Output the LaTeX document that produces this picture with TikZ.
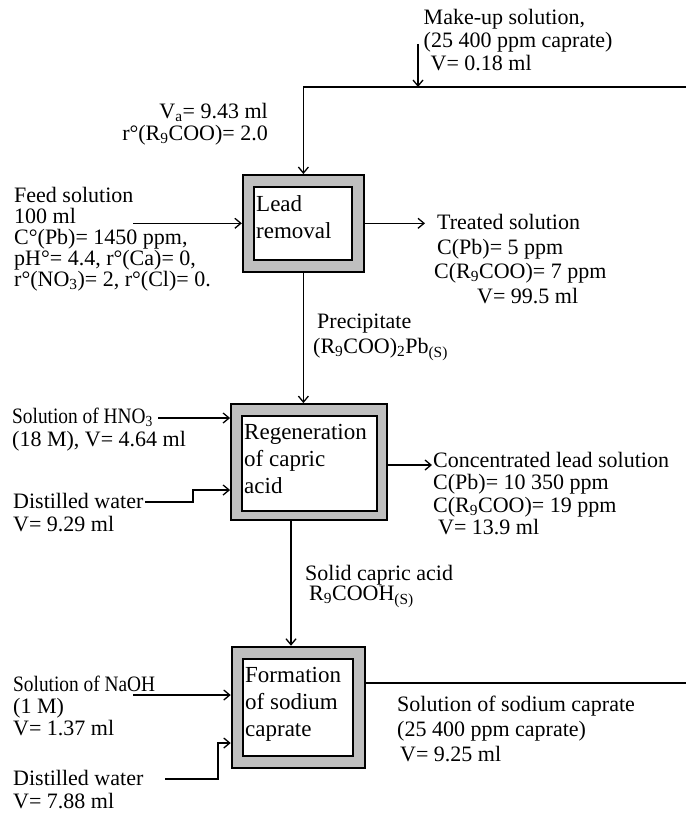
\documentclass[tikz,border=0pt]{standalone}
\usepackage{fontspec}
\usepackage{graphicx}
\setmainfont{Liberation Serif}
\usetikzlibrary{arrows.meta}
\newcommand{\narrowtxt}[1]{\scalebox{0.88}[1]{#1}}
\begin{document}
\begin{tikzpicture}[x=1pt,y=-1pt,
  lbl/.style={font=\fontsize{22}{22}\selectfont, inner sep=0pt, align=left, anchor=north west},
  boxtxt/.style={font=\fontsize{23}{27}\selectfont, inner sep=0pt, align=left, anchor=north west},
  outerbox/.style={draw, line width=1.8pt, fill=black!25, inner sep=0pt},
  innerbox/.style={draw, line width=1.8pt, fill=white, inner sep=0pt},
  flow/.style={line width=1.3pt, -{Straight Barb[length=6pt,width=10pt]}},
  plain/.style={line width=1.3pt}]
\useasboundingbox (0,0) rectangle (686,816);

% boxes
\node[outerbox, minimum width=121.3pt, minimum height=96.7pt] (b1o) at (303.4,223.3) {};
\node[innerbox, minimum width=97.7pt, minimum height=73.3pt] (b1i) at (302.9,223.3) {};
\node[boxtxt] (b1t) at (256,195.5) {Lead\\removal};

\node[outerbox, minimum width=156pt, minimum height=116pt] (b2o) at (309,462) {};
\node[innerbox, minimum width=135pt, minimum height=95pt] (b2i) at (309.5,463.5) {};
\node[boxtxt] (b2t) at (244,424.5) {Regeneration\\of capric\\acid};

\node[outerbox, minimum width=133.3pt, minimum height=121.3pt] (b3o) at (298.3,707.3) {};
\node[innerbox, minimum width=110pt, minimum height=97pt] (b3i) at (298,707.5) {};
\node[boxtxt] (b3t) at (245,667.5) {Formation\\of sodium\\caprate};

% labels
\node[lbl, font=\fontsize{22}{23}\selectfont] (mk) at (423.5,9) {Make-up solution,\\(25 400 ppm caprate)\\\hspace*{7pt}V= 0.18 ml};
\node[lbl, font=\fontsize{22}{22}\selectfont, align=right, anchor=north east] (va) at (268,103) {V\textsubscript{a}= 9.43 ml\\r°(R\textsubscript{9}COO)= 2.0};
\node[lbl, font=\fontsize{22}{21}\selectfont] (feed) at (14,187) {Feed solution\\100 ml\\C°(Pb)= 1450 ppm,\\pH°= 4.4, r°(Ca)= 0,\\r°(NO\textsubscript{3})= 2, r°(Cl)= 0.};
\node[lbl, font=\fontsize{22}{24.7}\selectfont] (treat) at (434,214) {\hspace*{3pt}Treated solution\\\hspace*{3pt}C(Pb)= 5 ppm\\C(R\textsubscript{9}COO)= 7 ppm\\\hspace*{43pt}V= 99.5 ml};
\node[lbl, font=\fontsize{22}{25}\selectfont] (prec) at (313,314) {\hspace*{4pt}Precipitate\\(R\textsubscript{9}COO)\textsubscript{2}Pb\textsubscript{(S)}};
\node[lbl, font=\fontsize{22}{23}\selectfont] (hno) at (12,407.5) {\narrowtxt{Solution of HNO\textsubscript{3}}\\(18 M), V= 4.64 ml};
\node[lbl, font=\fontsize{22}{23}\selectfont] (dw1) at (13,493) {Distilled water\\V= 9.29 ml};
\node[lbl, font=\fontsize{22}{22.5}\selectfont] (conc) at (433,452) {Concentrated lead solution\\C(Pb)= 10 350 ppm\\C(R\textsubscript{9}COO)= 19 ppm\\\hspace*{5pt}V= 13.9 ml};
\node[lbl, font=\fontsize{22}{20}\selectfont] (solid) at (305,565) {Solid capric acid\\\hspace*{4pt}R\textsubscript{9}COOH\textsubscript{(S)}};
\node[lbl, font=\fontsize{22}{22}\selectfont] (naoh) at (13,676) {\narrowtxt{Solution of NaOH}\\(1 M)\\V= 1.37 ml};
\node[lbl, font=\fontsize{22}{23}\selectfont] (dw2) at (13,770) {Distilled water\\V= 7.88 ml};
\node[lbl, font=\fontsize{22}{25}\selectfont] (sod) at (397,696) {Solution of sodium caprate\\(25 400 ppm caprate)\\\hspace*{3pt}V= 9.25 ml};

% coordinates
\coordinate (mkS) at (418,44);
\coordinate (mkJ) at (418,87);
\coordinate (rcR) at (686,87);
\coordinate (feedS) at (133,223.3);
\coordinate (treatE) at (425,223.3);
\coordinate (hnoS) at (158,418);
\coordinate (dw1S) at (145,502);
\coordinate (dw1K) at (193,502);
\coordinate (concE) at (432,465);
\coordinate (solidx) at (291,0);
\coordinate (naohS) at (133,695);
\coordinate (dw2S) at (165,779);
\coordinate (dw2K) at (218,779);
\coordinate (sodE) at (686,683);

% connectors
\draw[flow] (mkS) -- (mkJ);
\draw[flow] (rcR) -| (b1o.north);
\draw[flow] (feedS) -- (b1o.west);
\draw[flow] (b1o.east) -- (treatE);
\draw[flow] (b1o.south) -- (b1o.south |- b2o.north);
\draw[flow] (hnoS) -- (hnoS -| b2o.west);
\draw[flow] (dw1S) -- (dw1K) |- ([yshift=-28pt]b2o.west);
\draw[flow] ([yshift=-3pt]b2o.east) -- (concE);
\draw[flow] (b2o.south -| solidx) -- (b3o.north -| solidx);
\draw[flow] (naohS) -- (naohS -| b3o.west);
\draw[flow] (dw2S) -- (dw2K) |- ([yshift=-35.7pt]b3o.west);
\draw[plain] (sodE -| b3o.east) -- (sodE);
\end{tikzpicture}
\end{document}
